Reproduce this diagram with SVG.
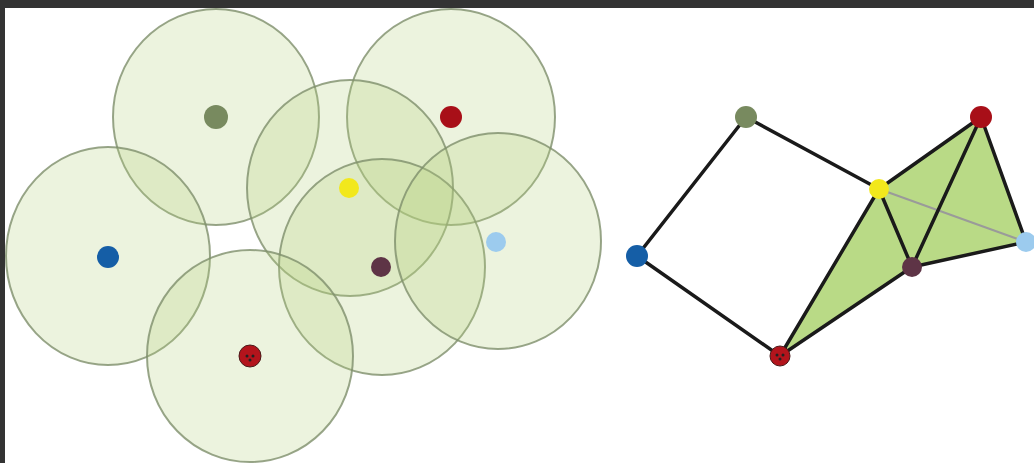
<svg xmlns="http://www.w3.org/2000/svg" width="1034" height="463" viewBox="0 0 1034 463">
<style>
.range{fill:#b3cf7b;fill-opacity:0.25;stroke:#7e8f6c;stroke-width:2;stroke-opacity:0.8}
.edge{stroke:#1a1a1a;stroke-width:3.5;stroke-linecap:round;fill:none}
.tri{fill:#b9da86;stroke:none}
</style>
<rect x="0" y="0" width="1034" height="463" fill="#ffffff"/>
<rect x="0" y="0" width="1034" height="8" fill="#333333"/>
<rect x="0" y="0" width="5" height="463" fill="#333333"/>
<g id="coverage">
<ellipse class="range" cx="216" cy="117" rx="103" ry="108"/>
<ellipse class="range" cx="451" cy="117" rx="104" ry="108"/>
<ellipse class="range" cx="350" cy="188" rx="103" ry="108"/>
<ellipse class="range" cx="108" cy="256" rx="102" ry="109"/>
<ellipse class="range" cx="382" cy="267" rx="103" ry="108"/>
<ellipse class="range" cx="498" cy="241" rx="103" ry="108"/>
<ellipse class="range" cx="250" cy="356" rx="103" ry="106"/>
</g>
<g id="left-nodes">
<g id="l-green"><circle cx="216" cy="117" r="12" fill="#788a5f"/></g>
<g id="l-red"><circle cx="451" cy="117" r="11" fill="#a80f18"/></g>
<g id="l-yellow"><circle cx="349" cy="188" r="10" fill="#f2e81c"/></g>
<g id="l-blue"><circle cx="108" cy="257" r="11" fill="#155ea6"/></g>
<g id="l-maroon"><circle cx="381" cy="267" r="10" fill="#5e3446"/></g>
<g id="l-lightblue"><circle cx="496" cy="242" r="10" fill="#9ccbee"/></g>
<g id="l-darkred"><circle cx="250" cy="356" r="11" fill="#b3141c" stroke="#4a1a1a" stroke-width="1"/><circle cx="247" cy="356" r="1.5" fill="#222"/><circle cx="253" cy="356" r="1.5" fill="#222"/><circle cx="250" cy="360" r="1.5" fill="#222"/></g>
</g>
<g id="faces">
<polygon class="tri" points="879,189 780,356 912,267"/>
<polygon class="tri" points="879,189 981,117 912,267"/>
<polygon class="tri" points="981,117 1026,242 912,267"/>
</g>
<g id="connectors">
<line x1="879" y1="189" x2="1026" y2="242" stroke="#9a9a9a" stroke-width="2"/>
<line class="edge" x1="746" y1="117" x2="637" y2="256"/>
<line class="edge" x1="746" y1="117" x2="879" y2="189"/>
<line class="edge" x1="637" y1="256" x2="780" y2="356"/>
<line class="edge" x1="780" y1="356" x2="879" y2="189"/>
<line class="edge" x1="780" y1="356" x2="912" y2="267"/>
<line class="edge" x1="879" y1="189" x2="912" y2="267"/>
<line class="edge" x1="879" y1="189" x2="981" y2="117"/>
<line class="edge" x1="981" y1="117" x2="912" y2="267"/>
<line class="edge" x1="981" y1="117" x2="1026" y2="242"/>
<line class="edge" x1="912" y1="267" x2="1026" y2="242"/>
</g>
<g id="r-green"><circle cx="746" cy="117" r="11" fill="#788a5f"/></g>
<g id="r-red"><circle cx="981" cy="117" r="11" fill="#a80f18"/></g>
<g id="r-yellow"><circle cx="879" cy="189" r="10" fill="#f2e81c"/></g>
<g id="r-blue"><circle cx="637" cy="256" r="11" fill="#155ea6"/></g>
<g id="r-maroon"><circle cx="912" cy="267" r="10" fill="#5e3446"/></g>
<g id="r-lightblue"><circle cx="1026" cy="242" r="10" fill="#9ccbee"/></g>
<g id="r-darkred"><circle cx="780" cy="356" r="10" fill="#b3141c" stroke="#4a1a1a" stroke-width="1"/><circle cx="777" cy="355" r="1.5" fill="#222"/><circle cx="783" cy="355" r="1.5" fill="#222"/><circle cx="780" cy="359" r="1.5" fill="#222"/></g>
</svg>
